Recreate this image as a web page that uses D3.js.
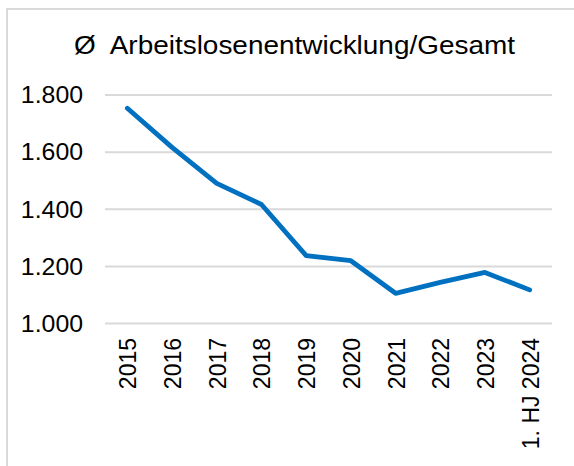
<!DOCTYPE html>
<html>
<head>
<meta charset="utf-8">
<script src="https://cdn.jsdelivr.net/npm/d3@7"></script>
<style>
  html, body { margin: 0; padding: 0; background: #fff; }
  svg { display: block; }
  text { font-family: "Liberation Sans", Arial, sans-serif; fill: #000; }
</style>
</head>
<body>
<svg id="chart" width="574" height="466"></svg>
<script>
const categories = ["2015", "2016", "2017", "2018", "2019", "2020", "2021", "2022", "2023", "1. HJ 2024"];
const values = [1752, 1615, 1489, 1415, 1236, 1218, 1104, 1142, 1177, 1116];
const yTicks = [1000, 1200, 1400, 1600, 1800];
const titleText = "Ø  Arbeitslosenentwicklung/Gesamt";

const svg = d3.select("#chart");
const W = 574, H = 466;
const stretch = 1.08;
svg.append("rect").attr("width", W).attr("height", H).attr("fill", "#fff");

// frame
svg.append("path")
  .attr("d", `M7,${H} L7,9 L${W},9`)
  .attr("fill", "none")
  .attr("stroke", "#d9d9d9")
  .attr("stroke-width", 2);

const x = d3.scaleBand().domain(categories).range([105, 552]).padding(0);
const y = d3.scaleLinear().domain([1000, 1800]).range([323, 94.5]);

// title
svg.append("text")
  .attr("x", 74)
  .attr("y", 54)
  .attr("font-size", 26)
  .attr("textLength", 441)
  .attr("lengthAdjust", "spacingAndGlyphs")
  .style("white-space", "pre")
  .attr("xml:space", "preserve")
  .text(titleText);

// gridlines + y labels
const yAxis = d3.axisLeft(y).tickValues(yTicks).tickSize(-(552 - 105))
  .tickFormat(d => d3.format(",.0f")(d).replace(/,/g, "."));
const gy = svg.append("g").attr("transform", "translate(105,0)").call(yAxis);
gy.select(".domain").remove();
gy.selectAll(".tick line").attr("stroke", "#d9d9d9").attr("stroke-width", 2);
gy.selectAll(".tick text")
  .attr("x", -22)
  .attr("dy", "0.36em")
  .attr("font-size", 23)
  .attr("font-family", "Liberation Sans, Arial, sans-serif")
  .attr("fill", "#000")
  .each(function () {
    const w = this.getComputedTextLength();
    d3.select(this).attr("textLength", w * stretch).attr("lengthAdjust", "spacingAndGlyphs");
  });

// x axis labels
const xAxis = d3.axisBottom(x).tickSize(0);
const gx = svg.append("g").attr("transform", "translate(0,323)").call(xAxis);
gx.select(".domain").remove();
gx.selectAll(".tick text")
  .attr("transform", `rotate(-90) scale(1,${stretch})`)
  .attr("x", -15)
  .attr("y", 0)
  .attr("dy", "0.36em")
  .attr("text-anchor", "end")
  .attr("font-size", 23)
  .attr("font-family", "Liberation Sans, Arial, sans-serif")
  .attr("fill", "#000");

// line
const line = d3.line()
  .x((d, i) => x(categories[i]) + x.bandwidth() / 2)
  .y(d => y(d));
svg.append("path")
  .datum(values)
  .attr("d", line)
  .attr("fill", "none")
  .attr("stroke", "#0070C0")
  .attr("stroke-width", 4.8)
  .attr("stroke-linejoin", "round")
  .attr("stroke-linecap", "round");
</script>
</body>
</html>
